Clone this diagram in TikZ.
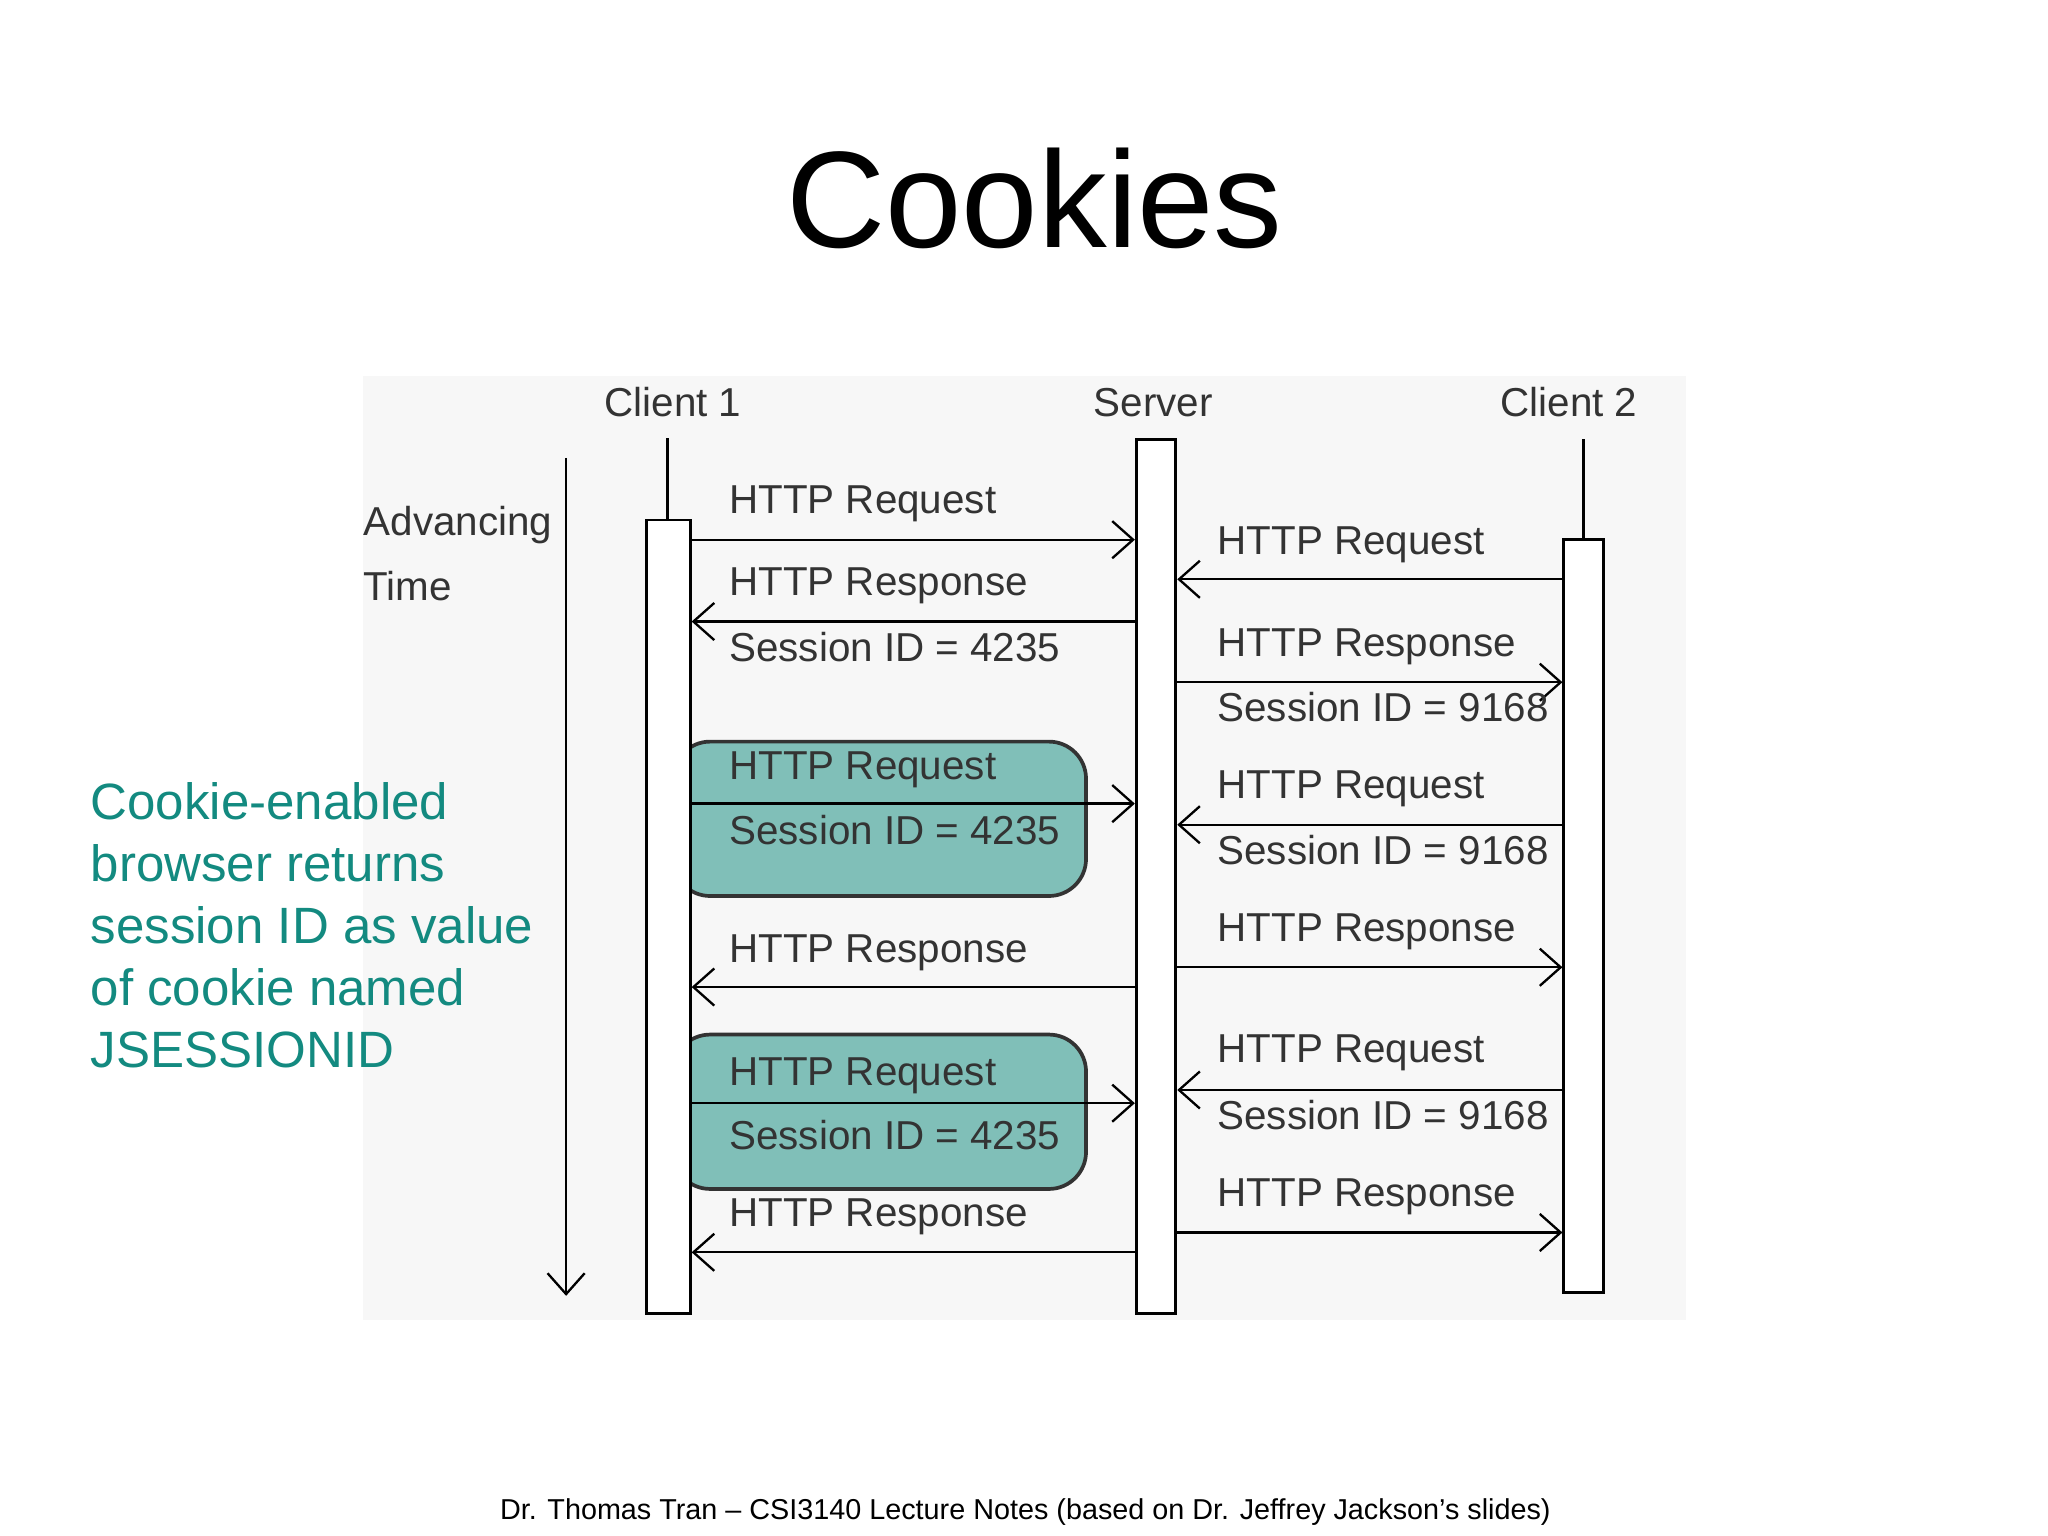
\documentclass[tikz,border=0pt]{standalone}
\usepackage{fontspec}
\setmainfont{Liberation Sans}
\usetikzlibrary{arrows.meta}
\definecolor{teal1}{HTML}{138A80}
\definecolor{tealbox}{HTML}{80BFB8}
\begin{document}
\begin{tikzpicture}[x=0.01cm,y=-0.01cm,
  msg/.style={line width=0.5pt,-{Straight Barb[length=4.5pt,width=8pt,line width=0.5pt]}},
  lbl/.style={anchor=west,font=\fontsize{8.7}{10}\selectfont,text=black!80,inner sep=0pt},
  life/.style={draw,line width=0.6pt,fill=white,inner sep=0pt,anchor=north west},
  hl/.style={draw=black!80,line width=0.8pt,fill=tealbox,rounded corners=8pt}]
\useasboundingbox (0,0) rectangle (1552,1164);
\fill[black!3] (275,285) rectangle (1278,1000);
\node[font=\fontsize{29.6}{32}\selectfont] (title) at (784,150) {Cookies};
% highlight boxes
\draw[hl] (510,562) rectangle (823,679);
\draw[hl] (510,784) rectangle (823,901);
% lifelines
\node[lbl,anchor=center] (lc1) at (510,305) {Client 1};
\node[lbl,anchor=center] (lsv) at (874,305) {Server};
\node[lbl,anchor=center] (lc2) at (1189,305) {Client 2};
\node[life,minimum width=33\pgflinewidth,text width=0,minimum width=0.33cm,minimum height=6.01cm] (c1) at (489,393) {};
\node[life,text width=0,minimum width=0.30cm,minimum height=6.62cm] (sv) at (860,332) {};
\node[life,text width=0,minimum width=0.30cm,minimum height=5.70cm] (c2) at (1184,408) {};
\coordinate (c1t) at (506,332);
\coordinate (c2t) at (1200,333);
\draw[line width=0.6pt] (c1t) -- (c1t |- c1.north);
\draw[line width=0.6pt] (c2t) -- (c2t |- c2.north);
% time
\coordinate (t0) at (429,347); \coordinate (t1) at (429,982);
\draw[msg] (t0) -- (t1);
\node[lbl] (adv) at (275,398) {Advancing};
\node[lbl] (tim) at (275,444) {Time};
% left messages
\draw[msg] (c1.east |- 0,409) -- (sv.west |- 0,409);
\node[lbl] at (552,382) {HTTP Request};
\draw[msg] (sv.west |- 0,471) -- (c1.east |- 0,471);
\node[lbl] at (552,444) {HTTP Response};
\node[lbl] at (552,490) {Session ID = 4235};
\draw[msg] (c1.east |- 0,609) -- (sv.west |- 0,609);
\node[lbl] at (552,583) {HTTP Request};
\node[lbl] at (552,629) {Session ID = 4235};
\draw[msg] (sv.west |- 0,748) -- (c1.east |- 0,748);
\node[lbl] at (552,722) {HTTP Response};
\draw[msg] (c1.east |- 0,836) -- (sv.west |- 0,836);
\node[lbl] at (552,815) {HTTP Request};
\node[lbl] at (552,860) {Session ID = 4235};
\draw[msg] (sv.west |- 0,949) -- (c1.east |- 0,949);
\node[lbl] at (552,922) {HTTP Response};
% right messages
\draw[msg] (c2.west |- 0,439) -- (sv.east |- 0,439);
\node[lbl] at (922,413) {HTTP Request};
\draw[msg] (sv.east |- 0,517) -- (c2.west |- 0,517);
\node[lbl] at (922,490) {HTTP Response};
\node[lbl] at (922,536) {Session ID = 9168};
\draw[msg] (c2.west |- 0,625) -- (sv.east |- 0,625);
\node[lbl] at (922,598) {HTTP Request};
\node[lbl] at (922,644) {Session ID = 9168};
\draw[msg] (sv.east |- 0,733) -- (c2.west |- 0,733);
\node[lbl] at (922,706) {HTTP Response};
\draw[msg] (c2.west |- 0,826) -- (sv.east |- 0,826);
\node[lbl] at (922,798) {HTTP Request};
\node[lbl] at (922,845) {Session ID = 9168};
\draw[msg] (sv.east |- 0,934) -- (c2.west |- 0,934);
\node[lbl] at (922,907) {HTTP Response};
% side note
\node[anchor=north west,align=left,text=teal1,font=\fontsize{11}{13.4}\selectfont,inner sep=0pt] (note) at (68,592)
 {Cookie-enabled\\browser returns\\session ID as value\\of cookie named\\JSESSIONID};
\node[font=\fontsize{6.2}{7}\selectfont] (foot) at (777,1146) {Dr. Thomas Tran -- CSI3140 Lecture Notes (based on Dr. Jeffrey Jackson’s slides)};
\end{tikzpicture}
\end{document}
